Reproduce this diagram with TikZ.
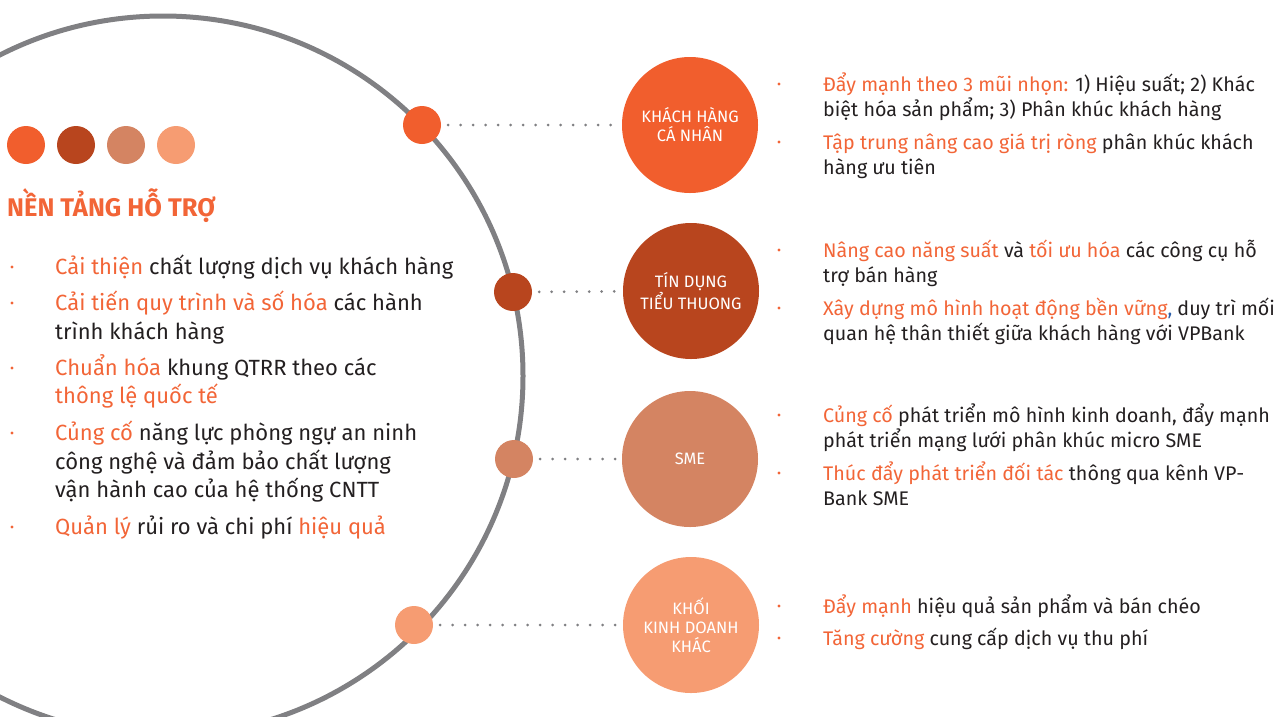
\documentclass[tikz,border=0pt]{standalone}
\usepackage{fontspec}
\setmainfont{Fira Sans}
\usepackage{xcolor}
\definecolor{cnhan}{RGB}{241,94,45}
\definecolor{tieuth}{RGB}{184,69,30}
\definecolor{smec}{RGB}{212,132,98}
\definecolor{khac}{RGB}{246,156,114}
\definecolor{hlight}{RGB}{242,101,55}
\definecolor{ink}{RGB}{35,31,32}
\definecolor{ring}{RGB}{128,128,131}
\definecolor{commablue}{RGB}{45,95,170}
\newcommand{\orn}[1]{\textcolor{hlight}{#1}}

\begin{document}
\begin{tikzpicture}[x=1pt,y=-1pt]
	\tikzset{
		dot/.style = {circle,inner sep=0pt,minimum size=38pt},
		seg/.style = {circle,inner sep=0pt,minimum size=136pt,text=white,align=center,font=\fontsize{16.5}{19}\selectfont},
		dotline/.style = {line width=3pt,ring,dash pattern=on 0pt off 12.5pt,line cap=round,shorten <=7pt,shorten >=3pt},
		lbody/.style = {anchor=base west,inner sep=0pt,font=\fontsize{22}{26}\selectfont,text=ink},
		rbody/.style = {anchor=base west,inner sep=0pt,font=\fontsize{19.7}{24}\selectfont,text=ink},
		bul/.style = {circle,fill=hlight,inner sep=0pt,minimum size=3.2pt}
	}
	\useasboundingbox (0,0) rectangle (1279,716);
	% big ring, cut by the page
	\begin{scope}
		\clip (0,0) rectangle (1279,716);
		\draw [ring,line width=5pt] (163,376) circle (360pt);
	\end{scope}
	% legend dots and title
	\node[dot,fill=cnhan] (g1) at (26,145) {};
	\node[dot,fill=tieuth] (g2) at (76,145) {};
	\node[dot,fill=smec] (g3) at (126,145) {};
	\node[dot,fill=khac] (g4) at (176,145) {};
	\node[anchor=base west,inner sep=0pt,text=hlight,font=\bfseries\fontsize{25.5}{26}\selectfont] (title) at (7,216) {NỀN TẢNG HỖ TRỢ};
	% left list
	\node[bul] (b1) at (12,267) {};
	\node[lbody] (p1) at (55,274) {\orn{Cải thiện} chất lượng dịch vụ khách hàng};
	\node[bul] (b2) at (12,303) {};
	\node[lbody] (p2) at (55,310) {\orn{Cải tiến quy trình và số hóa} các hành};
	\node[lbody] (p2b) at (55,339) {trình khách hàng};
	\node[bul] (b3) at (12,368) {};
	\node[lbody] (p3) at (55,375) {\orn{Chuẩn hóa} khung QTRR theo các};
	\node[lbody] (p3b) at (55,403) {\orn{thông lệ quốc tế}};
	\node[bul] (b4) at (12,433) {};
	\node[lbody] (p4) at (55,440) {\orn{Củng cố} năng lực phòng ngự an ninh};
	\node[lbody] (p4b) at (55,469) {công nghệ và đảm bảo chất lượng};
	\node[lbody] (p4c) at (55,497) {vận hành cao của hệ thống CNTT};
	\node[bul] (b5) at (12,527) {};
	\node[lbody] (p5) at (55,534) {\orn{Quản lý} rủi ro và chi phí \orn{hiệu quả}};
	% dots on the ring
	\node[dot,fill=cnhan] (d1) at (422,125) {};
	\node[dot,fill=tieuth] (d2) at (513,292) {};
	\node[dot,fill=smec] (d3) at (514,459) {};
	\node[dot,fill=khac] (d4) at (414,625) {};
	% segments
	\node[seg,fill=cnhan] (k1) at (690,125) {KHÁCH HÀNG\\CÁ NHÂN};
	\node[seg,fill=tieuth] (k2) at (691,291) {TÍN DỤNG\\TIỂU THUONG};
	\node[seg,fill=smec] (k3) at (690,459) {SME};
	\node[seg,fill=khac] (k4) at (691,625) {KHỐI\\KINH DOANH\\KHÁC};
	\draw[dotline] (d1) -- (k1);
	\draw[dotline] (d2) -- (k2);
	\draw[dotline] (d3) -- (k3);
	\draw[dotline] (d4) -- (k4);
	% right lists
	\node[bul] (r1) at (779,84) {};
	\node[rbody] (q1) at (823,91) {\orn{Đẩy mạnh theo 3 mũi nhọn:} 1) Hiệu suất; 2) Khác};
	\node[rbody] (q1b) at (823,116) {biệt hóa sản phẩm; 3) Phân khúc khách hàng};
	\node[bul] (r2) at (779,142) {};
	\node[rbody] (q2) at (823,149) {\orn{Tập trung nâng cao giá trị ròng} phân khúc khách};
	\node[rbody] (q2b) at (823,174) {hàng ưu tiên};
	\node[bul] (r3) at (779,250) {};
	\node[rbody] (q3) at (823,257) {\orn{Nâng cao năng suất} và \orn{tối ưu hóa} các công cụ hỗ};
	\node[rbody] (q3b) at (823,282) {trợ bán hàng};
	\node[bul] (r4) at (779,308) {};
	\node[rbody] (q4) at (823,315) {\orn{Xây dựng mô hình hoạt động bền vững}\textcolor{commablue}{,} duy trì mối};
	\node[rbody] (q4b) at (823,340) {quan hệ thân thiết giữa khách hàng với VPBank};
	\node[bul] (r5) at (779,415) {};
	\node[rbody] (q5) at (823,422) {\orn{Củng cố} phát triển mô hình kinh doanh, đẩy mạnh};
	\node[rbody] (q5b) at (823,447) {phát triển mạng lưới phân khúc micro SME};
	\node[bul] (r6) at (779,473) {};
	\node[rbody] (q6) at (823,480) {\orn{Thúc đẩy phát triển đối tác} thông qua kênh VP-};
	\node[rbody] (q6b) at (823,505) {Bank SME};
	\node[bul] (r7) at (779,606) {};
	\node[rbody] (q7) at (823,613) {\orn{Đẩy mạnh} hiệu quả sản phẩm và bán chéo};
	\node[bul] (r8) at (779,638) {};
	\node[rbody] (q8) at (823,645) {\orn{Tăng cường} cung cấp dịch vụ thu phí};
\end{tikzpicture}
\end{document}
